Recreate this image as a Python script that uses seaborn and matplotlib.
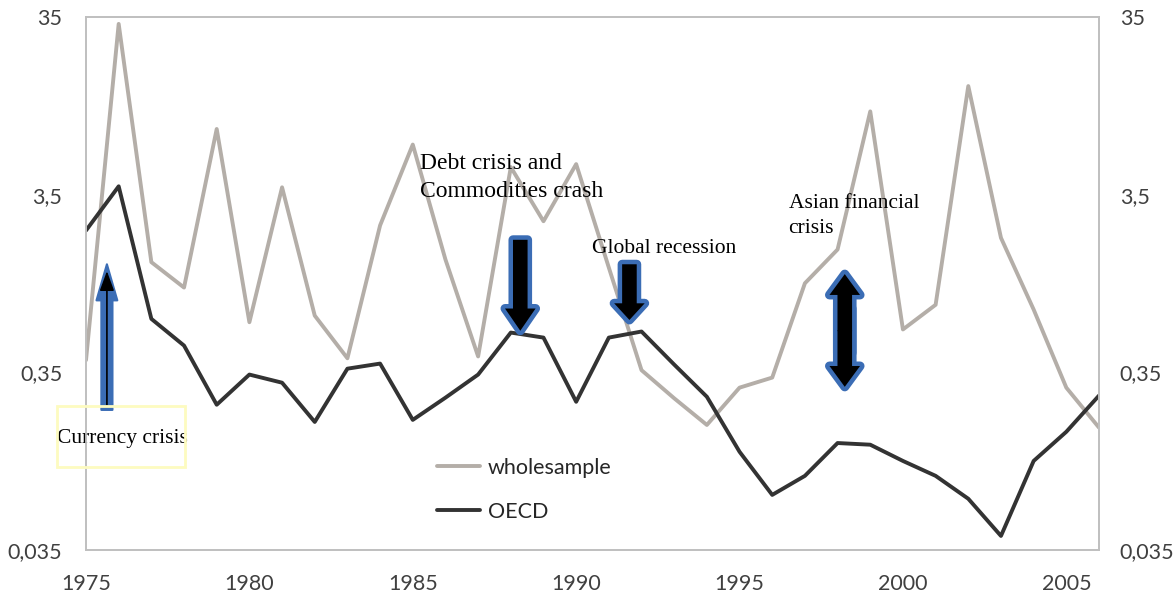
import matplotlib
matplotlib.use("Agg")
import matplotlib.pyplot as plt
import seaborn as sns
import pandas as pd
from matplotlib.patches import Rectangle
from matplotlib.lines import Line2D

years = list(range(1975, 2007))
wholesample = [0.41, 32.0, 1.46, 1.05, 8.2, 0.67, 3.85, 0.73, 0.42, 2.35, 6.7, 1.51,
               0.43, 5.0, 2.48, 5.2, 1.36, 0.36, 0.25, 0.177, 0.287, 0.327, 1.11, 1.72,
               10.3, 0.61, 0.84, 14.3, 2.0, 0.79, 0.287, 0.171]
oecd = [2.2, 3.9, 0.70, 0.495, 0.23, 0.34, 0.306, 0.184, 0.367, 0.392, 0.189, 0.252,
        0.34, 0.586, 0.549, 0.239, 0.549, 0.594, 0.387, 0.255, 0.125, 0.0715, 0.0915,
        0.14, 0.137, 0.111, 0.0915, 0.068, 0.042, 0.111, 0.162, 0.259]
series_names = ["wholesample", "OECD"]
y_ticks = [0.035, 0.35, 3.5, 35]
y_labels = ["0,035", "0,35", "3,5", "35"]
x_ticks = [1975, 1980, 1985, 1990, 1995, 2000, 2005]

df = pd.DataFrame({
    "year": years * 2,
    "value": wholesample + oecd,
    "series": [series_names[0]] * len(years) + [series_names[1]] * len(years),
})

sns.set_theme(style="white")
plt.rcParams["font.family"] = ["Lato", "DejaVu Sans"]

fig = plt.figure(figsize=(11.76, 5.94), dpi=100)
ax = fig.add_axes([86 / 1176, 1 - 550 / 594, (1099 - 86) / 1176, (550 - 17) / 594])

sns.lineplot(data=df, x="year", y="value", hue="series", ax=ax,
             palette={"wholesample": "#b4aea8", "OECD": "#333333"}, linewidth=2.8,
             legend=False)

ax.set_yscale("log")
ax.set_ylim(0.035, 35)
ax.set_xlim(1975, 2006)
ax.set_yticks(y_ticks)
ax.set_yticklabels(y_labels)
ax.minorticks_off()
ax.set_xticks(x_ticks)
ax.set_xlabel("")
ax.set_ylabel("")
ax.tick_params(axis="y", length=0, labelsize=15.5, colors="#404040", pad=17)
ax.tick_params(axis="x", length=0, labelsize=15.5, colors="#404040", pad=17)
for s in ax.spines.values():
    s.set_color("#bfbfbf")
    s.set_linewidth(1.2)

ax2 = ax.twinx()
ax2.set_yscale("log")
ax2.set_ylim(0.035, 35)
ax2.set_yticks(y_ticks)
ax2.set_yticklabels(y_labels)
ax2.minorticks_off()
ax2.tick_params(axis="y", length=0, labelsize=15.5, colors="#404040", pad=15)
for s in ax2.spines.values():
    s.set_color("#bfbfbf")
    s.set_linewidth(1.2)

# legend
handles = [Line2D([], [], color="#b4aea8", lw=2.8), Line2D([], [], color="#333333", lw=2.8)]
ax.legend(handles, series_names, loc="upper left", bbox_to_anchor=(437 / 1176, 1 - 458 / 594),
          bbox_transform=fig.transFigure, frameon=False, fontsize=15.5, handlelength=2.0,
          handletextpad=0.35, labelspacing=1.1, borderpad=0, borderaxespad=0)

# block arrows: blue outline layer first, black fill on top
blue = "#3b6db5"


def block_arrow(tail, tip, tw, hw, hl, fc=blue, ec=blue, lw=6.5):
    style = f"simple,tail_width={tw},head_width={hw},head_length={hl}"
    ax.annotate("", xy=tip, xytext=tail,
                arrowprops=dict(arrowstyle=style, fc=fc, ec=ec, lw=lw,
                                mutation_scale=1, shrinkA=0, shrinkB=0))


outlines = [
    ((1988.29, 1.95), (1988.29, 0.60)),
    ((1991.63, 1.42), (1991.63, 0.69)),
    ((1998.22, 0.45), (1998.22, 1.25)),
    ((1998.22, 0.80), (1998.22, 0.29)),
]
fills = [
    ((1988.29, 1.95), (1988.29, 0.60)),
    ((1991.63, 1.42), (1991.63, 0.69)),
    ((1998.22, 0.597), (1998.22, 1.25)),
    ((1998.22, 0.603), (1998.22, 0.29)),
]
heads = [16, 12, 15, 15]
for (tail, tip), hl in zip(outlines, heads):
    block_arrow(tail, tip, 10.5, 22, hl)
for (tail, tip), hl in zip(fills, heads):
    block_arrow(tail, tip, 10.5, 22, hl, fc="black", ec="none", lw=0)

# currency crisis: blue block arrow with a thin black arrow inside
block_arrow((1975.64, 0.215), (1975.64, 1.42), 8, 15, 26, lw=1.5)
ax.annotate("", xy=(1975.64, 1.30), xytext=(1975.64, 0.23),
            arrowprops=dict(arrowstyle="-|>,head_length=0.6,head_width=0.22", color="black",
                            lw=1.2, shrinkA=0, shrinkB=0, mutation_scale=20))

serif = ["Liberation Serif", "DejaVu Serif"]
ax.text(1985.23, 5.98, "Debt crisis and\nCommodities crash", family=serif, fontsize=17,
        va="top", ha="left", linespacing=1.4, color="black")
ax.text(1990.5, 1.74, "Global recession", family=serif, fontsize=15.5,
        va="center", ha="left", color="black")
ax.text(1996.5, 3.55, "Asian financial\ncrisis", family=serif, fontsize=15.5,
        va="top", ha="left", linespacing=1.45, color="black")
ax.text(1974.11, 0.148, "Currency crisis", family=serif, fontsize=15.5,
        va="center", ha="left", color="black", clip_on=False)
fig.patches.append(Rectangle((57 / 1176, 1 - 467 / 594), 128 / 1176, 61 / 594,
                             transform=fig.transFigure, fill=False, ec="#fdfbc0", lw=2))

fig.savefig("out.png", dpi=100)
